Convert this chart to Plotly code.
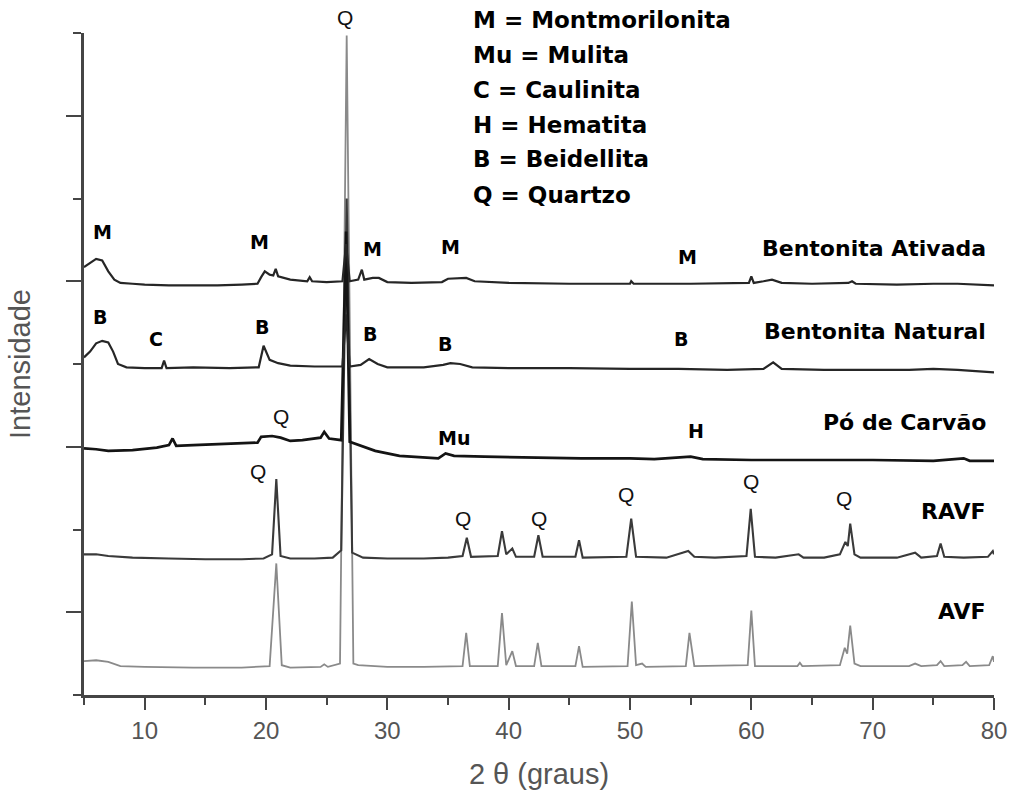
import plotly.graph_objects as go

# ---- data (2θ in degrees, stacked intensity in axis units 0-8) ----
ativada_x = [5.0, 5.5, 6.0, 6.5, 7.0, 7.5, 8.0, 9, 10, 12, 14, 16, 18, 19.3, 19.6, 19.9, 20.3, 20.6, 20.8, 21.0,
             22, 23.4, 23.6, 23.8, 25, 26.3, 26.6, 26.9, 27.6, 27.9, 28.1, 28.8, 29.3, 30, 32, 34.5, 35, 36.5,
             37.2, 40, 45, 50, 50.1, 50.3, 55, 59.8, 60.0, 60.2, 61, 61.7, 62.5, 65, 68, 68.3, 68.6, 72, 75, 77, 80]
ativada_y = [5.17, 5.22, 5.27, 5.25, 5.12, 5.02, 4.98, 4.97, 4.96, 4.95, 4.95, 4.95, 4.96, 4.97, 5.05, 5.12, 5.08,
             5.07, 5.15, 5.06, 5.02, 5.00, 5.05, 5.00, 4.99, 5.00, 5.45, 5.00, 5.02, 5.14, 5.02, 5.04, 5.04, 4.99,
             4.98, 4.99, 5.03, 5.04, 5.00, 4.98, 4.97, 4.97, 5.00, 4.97, 4.97, 4.98, 5.06, 4.98, 5.00, 5.02, 4.98,
             4.97, 4.98, 5.00, 4.97, 4.96, 4.97, 4.97, 4.95]

natural_x = [5.0, 5.5, 6.0, 6.5, 7.0, 7.4, 7.8, 8.5, 10, 11.4, 11.6, 11.8, 14, 17, 19.4, 19.8, 20.3, 21, 22, 24,
             26.3, 26.6, 26.9, 27.8, 28.5, 29.2, 30, 33, 34.6, 35.2, 36, 37, 40, 45, 50, 54, 58, 61.0, 61.8, 62.5,
             66, 70, 73, 75, 77, 80]
natural_y = [4.08, 4.15, 4.25, 4.28, 4.26, 4.15, 4.00, 3.96, 3.95, 3.95, 4.04, 3.95, 3.96, 3.95, 3.96, 4.22, 4.05,
             4.01, 3.98, 3.97, 3.97, 4.60, 3.97, 3.99, 4.06, 4.00, 3.96, 3.96, 3.99, 4.01, 4.00, 3.96, 3.95, 3.95,
             3.94, 3.94, 3.93, 3.94, 4.02, 3.94, 3.93, 3.93, 3.93, 3.94, 3.93, 3.90]

carvao_x = [5.0, 6, 7, 9, 11, 12.0, 12.3, 12.6, 14, 16, 18, 19.3, 19.6, 20.5, 21.2, 22, 23, 24.5, 24.8, 25.2,
            26.2, 26.6, 26.9, 27.5, 29, 31, 33, 34.2, 34.8, 35.5, 38, 42, 46, 50, 52, 55, 56, 60, 65, 70, 75,
            77.5, 78, 80]
carvao_y = [2.98, 2.97, 2.95, 2.96, 2.99, 3.02, 3.10, 3.01, 3.02, 3.03, 3.04, 3.05, 3.12, 3.13, 3.11, 3.07, 3.08,
            3.11, 3.18, 3.10, 3.08, 5.60, 3.06, 3.03, 2.95, 2.89, 2.87, 2.86, 2.92, 2.89, 2.88, 2.87, 2.86, 2.86,
            2.85, 2.88, 2.85, 2.84, 2.84, 2.84, 2.83, 2.86, 2.83, 2.83]

ravf_x = [5.0, 6, 7, 9, 12, 15, 18, 19.8, 20.5, 20.85, 21.2, 22, 24, 25.5, 26.2, 26.65, 27.1, 28, 30, 33, 35,
          36.2, 36.55, 36.9, 39.1, 39.45, 39.8, 40.3, 40.6, 42.1, 42.45, 42.8, 45.5, 45.8, 46.1, 49.7, 50.1, 50.5,
          53, 54.8, 55.3, 57, 59.6, 59.95, 60.3, 62, 63.9, 64.3, 66, 67.3, 67.75, 67.95, 68.15, 68.5, 69, 72,
          73.5, 74, 75.3, 75.6, 75.9, 77.5, 79.5, 79.9, 80]
ravf_y = [1.70, 1.70, 1.68, 1.66, 1.65, 1.64, 1.64, 1.65, 1.70, 2.61, 1.68, 1.65, 1.65, 1.66, 1.75, 6.00, 1.72,
          1.66, 1.65, 1.65, 1.66, 1.68, 1.90, 1.67, 1.68, 1.98, 1.70, 1.77, 1.67, 1.67, 1.93, 1.67, 1.67, 1.87,
          1.66, 1.67, 2.13, 1.67, 1.66, 1.74, 1.67, 1.66, 1.68, 2.25, 1.67, 1.66, 1.70, 1.66, 1.66, 1.70, 1.85,
          1.80, 2.07, 1.70, 1.66, 1.66, 1.72, 1.66, 1.68, 1.83, 1.67, 1.66, 1.67, 1.74, 1.70]

avf_x = [5.0, 6, 7, 8, 10, 14, 18, 20.3, 20.85, 21.3, 22, 24.5, 24.8, 25.1, 26.1, 26.65, 27.2, 27.6, 30, 33,
         36.2, 36.5, 36.8, 39.1, 39.45, 39.8, 40.3, 40.6, 42.1, 42.4, 42.7, 45.5, 45.8, 46.1, 49.8, 50.15, 50.5,
         51, 51.3, 54.6, 54.9, 55.3, 59.7, 60.0, 60.3, 63.8, 64.0, 64.2, 67.3, 67.7, 67.9, 68.15, 68.5, 69, 73,
         73.5, 74, 75.3, 75.6, 75.9, 77.4, 77.7, 78, 79.6, 79.9, 80]
avf_y = [0.41, 0.42, 0.40, 0.35, 0.34, 0.33, 0.33, 0.35, 1.59, 0.36, 0.33, 0.34, 0.37, 0.34, 0.38, 7.97, 0.38,
         0.36, 0.34, 0.34, 0.35, 0.75, 0.35, 0.35, 0.99, 0.36, 0.53, 0.35, 0.35, 0.63, 0.35, 0.35, 0.59, 0.34,
         0.35, 1.13, 0.36, 0.38, 0.34, 0.35, 0.75, 0.35, 0.36, 1.02, 0.35, 0.35, 0.39, 0.35, 0.36, 0.57, 0.50,
         0.84, 0.38, 0.35, 0.35, 0.38, 0.35, 0.36, 0.41, 0.35, 0.36, 0.40, 0.35, 0.36, 0.47, 0.40]

sample_names = ["Bentonita Ativada", "Bentonita Natural", "Pó de Carvão", "RAVF", "AVF"]
sample_label_y = [5.39, 4.39, 3.29, 2.22, 1.01]

# key of phases (paper y, measured from the plot area)
legend_lines = ["M = Montmorilonita", "Mu = Mulita", "C = Caulinita", "H = Hematita", "B = Beidellita",
                "Q = Quartzo"]
legend_y = [1.020, 0.967, 0.914, 0.861, 0.809, 0.756]

# phase labels: (text, 2θ, y)
phase_text = ["M", "M", "M", "M", "M", "B", "C", "B", "B", "B", "B", "Mu", "H"]
phase_x = [6.5, 19.46, 28.75, 35.24, 54.71, 6.31, 10.92, 19.63, 28.58, 34.75, 54.22, 35.48, 55.45]
phase_y = [5.59, 5.47, 5.39, 5.41, 5.29, 4.57, 4.30, 4.45, 4.36, 4.24, 4.30, 3.10, 3.19]

quartz_x = [21.27, 19.30, 36.22, 42.47, 49.70, 59.97, 67.61]
quartz_y = [3.36, 2.70, 2.13, 2.13, 2.42, 2.58, 2.37]
quartz_top_x = 26.53  # label of the main quartz peak, above the frame

x_ticks = [10, 20, 30, 40, 50, 60, 70, 80]

AX = "#454545"
TXT = "#555555"
SANS = "Liberation Sans, Arial, sans-serif"
BOLD = "DejaVu Sans, Verdana, sans-serif"

fig = go.Figure()
series = [
    (ativada_x, ativada_y, "#262626", 2.2, sample_names[0]),
    (natural_x, natural_y, "#262626", 2.2, sample_names[1]),
    (carvao_x, carvao_y, "#141414", 2.7, sample_names[2]),
    (ravf_x, ravf_y, "#3a3a3a", 2.1, sample_names[3]),
    (avf_x, avf_y, "#8a8a8a", 1.8, sample_names[4]),
]
for xs, ys, col, w, nm in reversed(series):
    fig.add_trace(go.Scatter(x=xs, y=ys, mode="lines", name=nm,
                             line=dict(color=col, width=w), hoverinfo="x+y+name"))

ann = []
for nm, yy in zip(sample_names, sample_label_y):
    ann.append(dict(x=79.5, y=yy, xref="x", yref="y", text="<b>%s</b>" % nm, showarrow=False,
                    xanchor="right", yanchor="middle", font=dict(family=BOLD, size=22, color="#000")))
for t, yy in zip(legend_lines, legend_y):
    ann.append(dict(x=36.88, y=yy, xref="x", yref="paper", text="<b>%s</b>" % t, showarrow=False,
                    xanchor="left", yanchor="middle", font=dict(family=BOLD, size=23, color="#000")))
for t, xx, yy in zip(phase_text, phase_x, phase_y):
    ann.append(dict(x=xx, y=yy, xref="x", yref="y", text="<b>%s</b>" % t, showarrow=False,
                    xanchor="center", yanchor="middle", font=dict(family=BOLD, size=19, color="#000")))
for xx, yy in zip(quartz_x, quartz_y):
    ann.append(dict(x=xx, y=yy, xref="x", yref="y", text="Q", showarrow=False,
                    xanchor="center", yanchor="middle", font=dict(family=SANS, size=21, color="#111")))
ann.append(dict(x=quartz_top_x, y=1.023, xref="x", yref="paper", text="Q", showarrow=False,
                xanchor="center", yanchor="middle", font=dict(family=SANS, size=21, color="#111")))

fig.update_layout(
    width=1019, height=798,
    margin=dict(l=84, r=20, t=33, b=101),
    paper_bgcolor="white", plot_bgcolor="white",
    showlegend=False,
    annotations=ann,
    xaxis=dict(range=[5, 80], tickvals=x_ticks, ticks="outside", ticklen=12, tickwidth=2, tickcolor=AX,
               showline=True, linecolor=AX, linewidth=2.5, showgrid=False, zeroline=False,
               tickfont=dict(family=SANS, size=24, color=TXT),
               minor=dict(tickvals=[5, 15, 25, 35, 45, 55, 65, 75], ticks="outside", ticklen=7,
                          tickwidth=2, tickcolor=AX, showgrid=False),
               title=dict(text="2 θ (graus)", font=dict(family=SANS, size=29, color=TXT), standoff=22)),
    yaxis=dict(range=[0, 8], tickvals=[1, 3, 5, 7], ticks="outside", ticklen=15, tickwidth=2, tickcolor=AX,
               showticklabels=False, showline=True, linecolor=AX, linewidth=2.5, showgrid=False,
               zeroline=False,
               minor=dict(tickvals=[0, 2, 4, 6, 8], ticks="outside", ticklen=8, tickwidth=2, tickcolor=AX,
                          showgrid=False),
               title=dict(text="Intensidade", font=dict(family=SANS, size=29, color=TXT), standoff=28)),
)

fig.write_html("out.html")
